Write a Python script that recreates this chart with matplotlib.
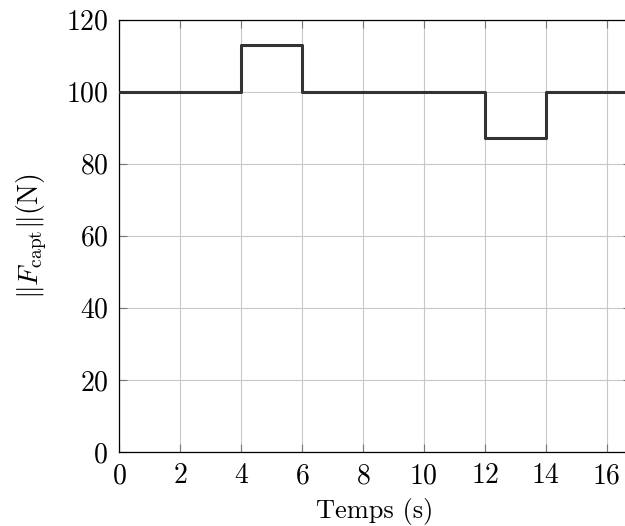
import matplotlib
matplotlib.use("Agg")
import matplotlib.pyplot as plt

# Data (step signal)
times = [0, 4, 6, 12, 14, 16.8]
forces = [100, 113, 100, 87, 100, 100]
xticks = [0, 2, 4, 6, 8, 10, 12, 14, 16]
yticks = [0, 20, 40, 60, 80, 100, 120]

plt.rcParams['font.family'] = 'serif'
plt.rcParams['font.serif'] = ['cmr10']
plt.rcParams['mathtext.fontset'] = 'cm'
plt.rcParams['axes.formatter.use_mathtext'] = True

fig = plt.figure(figsize=(6.25, 5.26), dpi=100)
ax = fig.add_axes([119.3/625, 74/526, 511.6/625, 432.5/526])

ax.step(times, forces, where='post', color='#333333', linewidth=2.2, zorder=3)

ax.set_xlim(0, 16.8)
ax.set_ylim(0, 120)
ax.set_xticks(xticks)
ax.set_yticks(yticks)
ax.grid(True, color='#c8c8c8', linewidth=0.8)
ax.tick_params(direction='in', top=True, right=True, length=6, width=0.8,
               color='#777777', labelsize=20)
ax.tick_params(axis='y', pad=8)
ax.tick_params(axis='x', pad=8)
for s in ax.spines.values():
    s.set_linewidth(0.9)
    s.set_color('black')

ax.set_xlabel('Temps (s)', fontsize=19, labelpad=6)
ax.set_ylabel(r'$\|F_{\mathrm{capt}}\|(\mathrm{N})$', fontsize=20, labelpad=12)

fig.savefig('out.png', dpi=100)
